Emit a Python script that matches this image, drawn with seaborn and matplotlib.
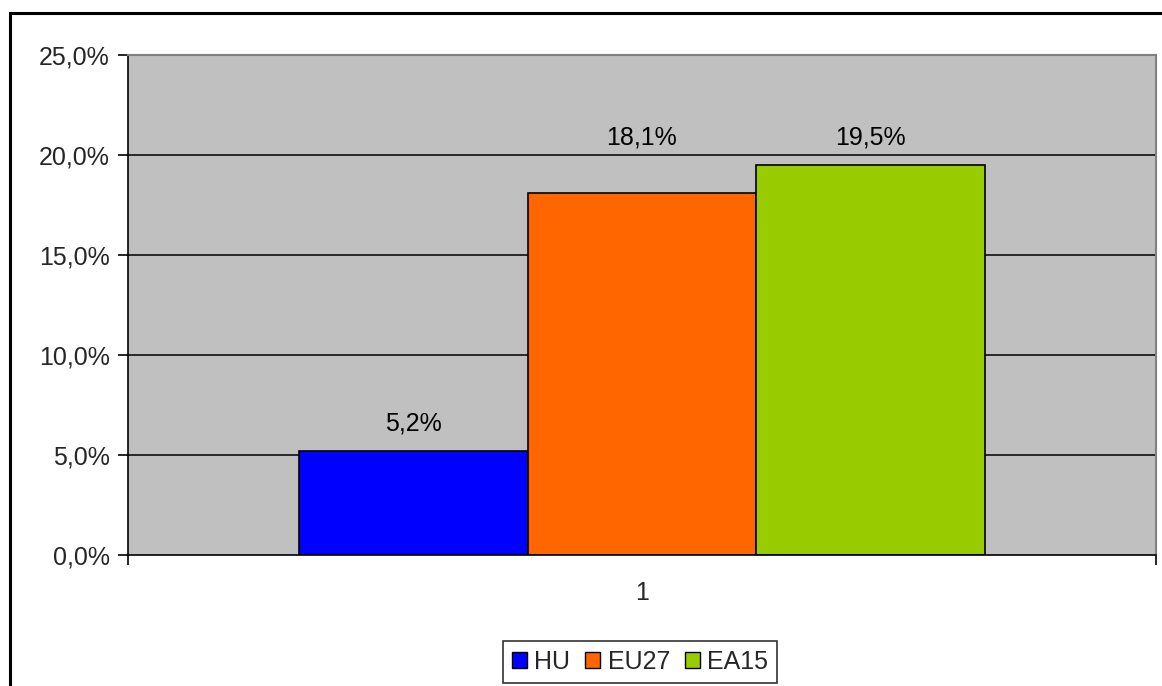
import matplotlib
matplotlib.use("Agg")
import matplotlib.pyplot as plt
import seaborn as sns
import pandas as pd
from matplotlib.patches import Rectangle
from matplotlib.ticker import FuncFormatter, FixedLocator

categories = ["1"]
series = ["HU", "EU27", "EA15"]
values = [5.2, 18.1, 19.5]
colors = ["#0000FF", "#FF6600", "#99CC00"]
yticks = [0, 5, 10, 15, 20, 25]
label_pad = [11, 31, 11]

sns.set_theme(style="white")
plt.rcParams['font.family'] = ['Liberation Sans', 'DejaVu Sans']

df = pd.DataFrame({"cat": categories * len(series), "series": series, "value": values})

fig = plt.figure(figsize=(11.62, 6.86), dpi=100)
ax = fig.add_axes([128/1162, 1-555/686, (1156-128)/1162, (555-55)/686])
ax.set_facecolor("#C0C0C0")

sns.barplot(data=df, x="cat", y="value", hue="series", hue_order=series,
            palette=colors, width=0.668, edgecolor="black", linewidth=1.2,
            saturation=1, ax=ax, legend=True)

ax.set_ylim(0, 25)
ax.set_xlim(-0.5, 0.5)
ax.yaxis.set_major_locator(FixedLocator(yticks))
ax.yaxis.set_major_formatter(FuncFormatter(lambda v, p: f"{v:.1f}%".replace(".", ",")))
for y in yticks[1:-1]:
    ax.axhline(y, color="black", linewidth=1.1, zorder=0.5)
ax.set_axisbelow(True)

ax.set_xlabel("")
ax.set_ylabel("")
ax.tick_params(axis="y", labelsize=18, direction="out", length=7, width=1.2,
               color="black", left=True, pad=6)
ax.tick_params(axis="x", labelsize=18, length=0, pad=19)
ax.set_xticks([0])
ax.set_xticklabels(categories)
ax.xaxis.set_minor_locator(FixedLocator([-0.5, 0.5]))
ax.tick_params(axis="x", which="minor", direction="out", length=7, width=1.2,
               color="black", bottom=True)

for s in ["left", "bottom"]:
    ax.spines[s].set_color("black")
    ax.spines[s].set_linewidth(1.2)
for s in ["top", "right"]:
    ax.spines[s].set_color("#808080")
    ax.spines[s].set_linewidth(1.5)

for cont, pad in zip(ax.containers, label_pad):
    labels = [f"{b.get_height():.1f}%".replace(".", ",") for b in cont]
    ax.bar_label(cont, labels=labels, padding=pad, fontsize=18, color="black")

handles, labels = ax.get_legend_handles_labels()
ax.legend(handles, labels, loc="center", bbox_to_anchor=(640/1162, 1-662/686),
          bbox_transform=fig.transFigure, ncol=3, fontsize=18, frameon=True,
          fancybox=False, edgecolor="black", handlelength=0.6, handleheight=0.6,
          handletextpad=0.3, columnspacing=0.6, borderpad=0.35)
leg = ax.get_legend()
leg.get_frame().set_linewidth(1.2)
for h in leg.legend_handles:
    h.set_edgecolor("black")
    h.set_linewidth(1.0)

fig.patches.append(Rectangle((10/1162, -0.1), 1.2, 1.1 - 13/686,
                             transform=fig.transFigure, fill=False,
                             edgecolor="black", linewidth=2.2))

fig.savefig("out.png", dpi=100)
